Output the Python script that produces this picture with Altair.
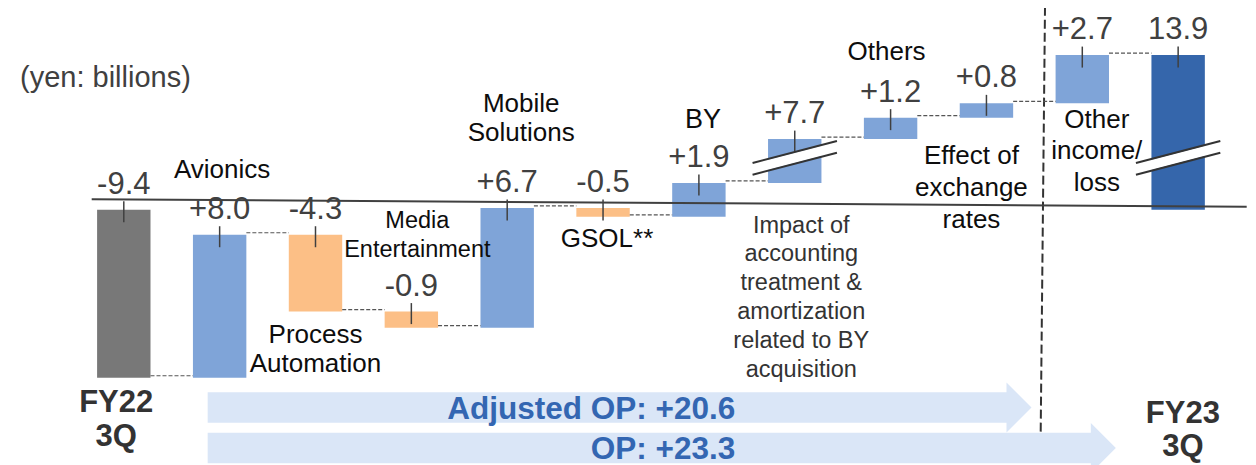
import altair as alt
import pandas as pd

# ---------------- data ----------------
categories = ["FY22 3Q", "Avionics", "Process Automation", "Media Entertainment",
              "Mobile Solutions", "GSOL**", "BY",
              "Impact of accounting treatment & amortization related to BY acquisition",
              "Others", "Effect of exchange rates", "Other income/loss", "FY23 3Q"]
label_lines = [["FY22", "3Q"], ["Avionics"], ["Process", "Automation"], ["Media", "Entertainment"],
               ["Mobile", "Solutions"], ["GSOL**"], ["BY"],
               ["Impact of", "accounting", "treatment &", "amortization", "related to BY", "acquisition"],
               ["Others"], ["Effect of", "exchange", "rates"], ["Other", "income/", "loss"], ["FY23", "3Q"]]
values = [-9.4, 8.0, -4.3, -0.9, 6.7, -0.5, 1.9, 7.7, 1.2, 0.8, 2.7, 13.9]
value_text = ["-9.4", "+8.0", "-4.3", "-0.9", "+6.7", "-0.5", "+1.9", "+7.7", "+1.2", "+0.8", "+2.7", "13.9"]
kinds = ["total", "increase", "decrease", "decrease", "increase", "decrease", "increase",
         "increase", "increase", "increase", "increase", "result"]
broken_bars = [7, 11]          # bars drawn across the axis break
arrow_labels = ["Adjusted OP: +20.6", "OP: +23.3"]
arrow_from = [0.875, 0.875]    # in category-slot units
arrow_to = [9.47, 10.35]
arrow_level = [-11.07, -13.33]
unit_label = "(yen: billions)"

# ---------------- layout constants ----------------
BREAK_SHIFT = 5.25   # amount of the value axis removed by the break
BREAK_ABOVE = 5.0
BREAK_LEVEL = 2.9
HW = 0.2786          # half bar width (slot units)
X_DOMAIN = [-1.2081, 11.7288]
Y_DOMAIN = [-14.2825, 11.2839]
W, H = 1240, 457

FONT = "Liberation Sans"
COLORS = {"total": "#787878", "increase": "#7FA4D8", "decrease": "#FCBF86", "result": "#3566AB"}
ARROW = "#DAE6F7"
ARROW_TEXT = "#3366B2"
DARK = "#404040"


def disp(v):
    return v - BREAK_SHIFT if v > BREAK_ABOVE else v


rows = []
cum = 0.0
for i, (c, v, k) in enumerate(zip(categories, values, kinds)):
    if k in ("total", "result"):
        start, end = 0.0, v
    else:
        start, end = cum, round(cum + v, 2)
    cum = end
    d0, d1 = disp(start), disp(end)
    rows.append(dict(i=i, cat=c, kind=k, top=max(d0, d1), bottom=min(d0, d1),
                     left=i - HW, right=i + HW, level=disp(end),
                     vtext=value_text[i], lines=label_lines[i]))
bars_df = pd.DataFrame(rows)

conn_df = pd.DataFrame([dict(x=i + HW, x2=i + 1 - HW, y=bars_df.level[i]) for i in range(len(rows) - 1)])
brk_df = pd.DataFrame([dict(x=b - 0.44, x2=b + 0.44, y=BREAK_LEVEL - 0.615, y2=BREAK_LEVEL + 0.615)
                       for b in broken_bars])
arrows_df = pd.DataFrame(dict(label=arrow_labels, x=arrow_from, x2=arrow_to, y=arrow_level,
                              tx=[6.38, 6.38]))
divider_df = pd.DataFrame([dict(x=9.611, x2=9.566, y=11.36, y2=-12.42)])
baseline_df = pd.DataFrame([dict(x=-0.335, x2=11.715, y=0.582, y2=0.168)])

xs = alt.Scale(domain=X_DOMAIN, nice=False, zero=False)
ys = alt.Scale(domain=Y_DOMAIN, nice=False, zero=False)


def X(f):
    return alt.X(f, type="quantitative", scale=xs, axis=None)


def Y(f):
    return alt.Y(f, type="quantitative", scale=ys, axis=None)


layers = []

# arrows
layers.append(alt.Chart(arrows_df).mark_rule(strokeWidth=30.5, color=ARROW, strokeCap="butt", x2Offset=-24)
              .encode(x=X("x"), x2="x2", y=Y("y")))
layers.append(alt.Chart(arrows_df).mark_point(shape="M-0.5,-1L0.5,0L-0.5,1Z", size=2500, filled=True,
                                                opacity=1, color=ARROW, strokeWidth=0, xOffset=-12.5)
              .encode(x=X("x2"), y=Y("y")))
layers.append(alt.Chart(arrows_df).mark_text(align="right", baseline="alphabetic", dy=11.5, fontSize=31.5,
                                               fontWeight="bold", font=FONT, color=ARROW_TEXT)
              .encode(x=X("tx"), y=Y("y"), text="label:N"))

# divider
layers.append(alt.Chart(divider_df).mark_rule(strokeWidth=2, color="#333333", strokeDash=[9, 4])
              .encode(x=X("x"), x2="x2", y=Y("y"), y2="y2"))

# bars
layers.append(alt.Chart(bars_df).mark_rect()
              .encode(x=X("left"), x2="right", y=Y("bottom"), y2="top",
                      color=alt.Color("kind:N", scale=alt.Scale(domain=list(COLORS.keys()),
                                                                range=list(COLORS.values())),
                                      legend=None)))

# connectors
layers.append(alt.Chart(conn_df).mark_rule(strokeWidth=1.2, color="#555555", strokeDash=[4, 2], yOffset=-2)
              .encode(x=X("x"), x2="x2", y=Y("y")))

# leader ticks
layers.append(alt.Chart(bars_df).mark_rule(strokeWidth=1.5, color=DARK, yOffset=-8.5, y2Offset=12.5)
              .encode(x=X("i"), y=Y("top"), y2="top"))

# break marks
layers.append(alt.Chart(brk_df).mark_rule(strokeWidth=10, color="white")
              .encode(x=X("x"), x2="x2", y=Y("y"), y2="y2"))
for off in (-5.9, 5.9):
    layers.append(alt.Chart(brk_df).mark_rule(strokeWidth=2, color="#333333", yOffset=off, y2Offset=off)
                  .encode(x=X("x"), x2="x2", y=Y("y"), y2="y2"))

# baseline
layers.append(alt.Chart(baseline_df).mark_rule(strokeWidth=2, color=DARK)
              .encode(x=X("x"), x2="x2", y=Y("y"), y2="y2"))

# value labels
layers.append(alt.Chart(bars_df).mark_text(dy=-16, fontSize=31, font=FONT, color=DARK, baseline="alphabetic")
              .encode(x=X("i"), y=Y("top"), text="vtext:N"))

# category labels: anchor (top/bottom of bar), dx, dy, size, line height, bold, color
label_style = [
    ("bottom", -7.6, 34.6, 31, 34, True, "#333333"),
    ("top", 2.5, -56.4, 26, 29, False, "#0d0d0d"),
    ("bottom", 0, 31.7, 26, 29, False, "#0d0d0d"),
    ("top", 6, -83.3, 23.5, 29, False, "#0d0d0d"),
    ("top", 14, -96.2, 26, 29, False, "#0d0d0d"),
    ("bottom", 4, 29.9, 26, 29, False, "#0d0d0d"),
    ("top", 4, -54.6, 27, 29, False, "#0d0d0d"),
    ("bottom", 6.5, 49.8, 23.5, 28.8, False, "#333333"),
    ("top", -4, -57.6, 26, 29, False, "#0d0d0d"),
    ("bottom", -15, 46.4, 26, 32, False, "#0d0d0d"),
    ("bottom", 14.5, 24.4, 26, 31.7, False, "#0d0d0d"),
    ("bottom", 4.7, 213.6, 31, 33, True, "#333333"),
]
for i, (anchor, dx, dy, fs, lh, bold, col) in enumerate(label_style):
    layers.append(alt.Chart(bars_df[bars_df.i == i]).mark_text(
        dx=dx, dy=dy, fontSize=fs, lineHeight=lh, font=FONT, color=col, align="center",
        baseline="alphabetic", fontWeight="bold" if bold else "normal")
        .encode(x=X("i"), y=Y(anchor), text="lines"))

# unit label
layers.append(alt.Chart(pd.DataFrame({"t": [unit_label]})).mark_text(
    align="left", baseline="alphabetic", fontSize=29, font=FONT, color=DARK)
    .encode(x=alt.value(12), y=alt.value(79), text="t:N"))

chart = alt.layer(*layers).properties(
    width=W, height=H, padding=0, autosize=alt.AutoSizeParams(type="none"), background="white"
).configure_view(stroke=None)

chart.save("out.html", embed_options={"renderer": "svg", "actions": False})
